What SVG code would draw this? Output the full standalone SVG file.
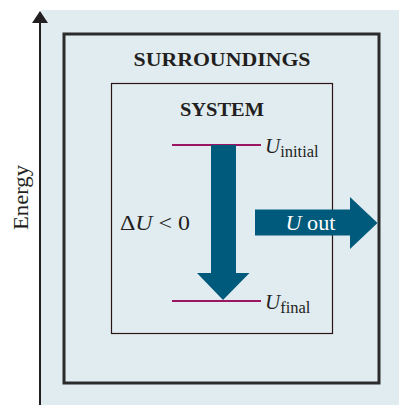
<svg xmlns="http://www.w3.org/2000/svg" width="399" height="405" viewBox="0 0 399 405">
<style>
.t{font-family:"Liberation Serif","Times New Roman",serif;fill:#231f20}
.b{font-weight:bold}
.lvl{stroke:#9b1563;stroke-width:2}
.blue{fill:#005a7c}
</style>
<defs>
<marker id="ah" viewBox="0 0 12 16" refX="11" refY="8" markerWidth="12" markerHeight="16" markerUnits="userSpaceOnUse" orient="auto">
<path d="M0,0 L12,8 L0,16 Z" fill="#231f20"/>
</marker>
</defs>
<rect x="41" y="10" width="358" height="395" fill="#e1ecf1"/>
<g id="axis">
<line x1="40" y1="405" x2="40" y2="12" stroke="#231f20" stroke-width="2" marker-end="url(#ah)"/>
<text class="t" transform="translate(28,197.5) rotate(-90)" text-anchor="middle" font-size="21" textLength="65" lengthAdjust="spacingAndGlyphs">Energy</text>
</g>
<g id="surroundings">
<rect x="64" y="34" width="315" height="349" fill="none" stroke="#2b2b2b" stroke-width="3"/>
<text class="t b" x="222" y="66" text-anchor="middle" font-size="19" textLength="177" lengthAdjust="spacingAndGlyphs">SURROUNDINGS</text>
</g>
<g id="system">
<rect x="111.5" y="83.5" width="221" height="250" fill="none" stroke="#2a1414" stroke-width="1.2"/>
<text class="t b" x="222" y="116" text-anchor="middle" font-size="19" textLength="84" lengthAdjust="spacingAndGlyphs">SYSTEM</text>
</g>
<g id="levels">
<line class="lvl" x1="172" y1="145" x2="261" y2="145"/>
<line class="lvl" x1="172" y1="301" x2="261" y2="301"/>
<text class="t" x="265" y="153" font-size="21"><tspan font-style="italic">U</tspan><tspan font-size="16.5" dy="3.5">initial</tspan></text>
<text class="t" x="265" y="309" font-size="21"><tspan font-style="italic">U</tspan><tspan font-size="16.5" dy="3.5">final</tspan></text>
</g>
<g id="connectors">
<path class="blue" d="M211,145 H236 V273 H249.5 L223,300 L197,273 H211 Z"/>
<path class="blue" d="M255,209.5 H350 V197 L377.5,223 L350,249 V235.5 H255 Z"/>
</g>
<g id="labels">
<text class="t" x="120" y="229.5" font-size="21" textLength="70" lengthAdjust="spacingAndGlyphs"><tspan>Δ</tspan><tspan font-style="italic">U</tspan><tspan> &lt; 0</tspan></text>
<text class="t" x="310.5" y="230" font-size="21" text-anchor="middle" textLength="50" lengthAdjust="spacingAndGlyphs" style="fill:#ffffff"><tspan font-style="italic">U</tspan> out</text>
</g>
</svg>
